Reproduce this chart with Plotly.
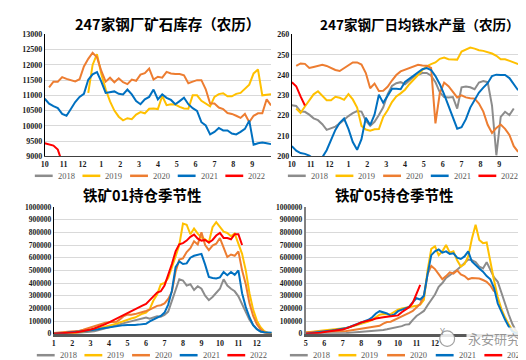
import numpy as np
import plotly.graph_objects as go

W, H = 526, 360

YEARS = ["2018", "2019", "2020", "2021", "2022"]
COLORS = {"2018": "#8C8C8C", "2019": "#FFC000", "2020": "#ED7D31",
          "2021": "#0070C0", "2022": "#FF0000"}

# ---------------- top-left: 247 steel mills ore inventory (lunar weeks) ----------------
lunar_labels = ["10", "11", "12", "1", "2", "3", "4", "5", "6", "7", "8", "9"]
inv_2018 = []
inv_2019 = [None] * 10 + [11080, 12000, 12350, 11700, 11200, 10800, 10500, 10300, 10180, 10250,
                          10220, 10370, 10450, 10410, 10560, 10570, 10550, 10980, 10680, 10710,
                          10700, 10620, 10570, 10560, 11000, 11000, 10820, 10720, 10640, 10950,
                          11040, 11070, 10970, 10970, 11050, 11080, 11200, 11350, 11720, 11850,
                          11000, 11010, 11040]
inv_2020 = [None] + [11260, 11450, 11450, 11600, 11540, 11500, 11460, 11530, 11950, 12200,
                     12400, 12250, 11800, 11450, 11580, 11430, 11560, 11430, 11370, 11520,
                     11480, 11680, 11730, 11880, 11520, 11610, 11580, 11770, 11720, 11700,
                     11700, 11660, 11400, 11450, 11500, 11500, 11200, 10730, 10730, 10600,
                     10550, 10420, 10390, 10330, 10260, 10390, 10120, 10330, 10410, 10410,
                     10870, 10670]
inv_2021 = [10890, 10730, 10650, 10580, 10390, 10330, 10550, 10780, 10950, 11050,
            11510, 11690, 11760, 11450, 11080, 11100, 11130, 11050, 11030, 11190,
            11030, 10810, 10710, 10870, 10950, 11190, 10870, 11030, 10920, 10850,
            10710, 10810, 10920, 10710, 10580, 10490, 10120, 10010, 9720, 9800,
            9930, 9850, 9850, 9750, 9720, 9800, 9900, 10170, 9380, 9430,
            9450, 9430, 9400]
inv_2022 = [9430, 9400, 9350, 9220, 8800]

# ---------------- top-right: 247 mills daily hot metal output (lunar weeks) ----------------
hm_2018 = [225.1, 224.8, 222, 221.9, 220.5, 218.7, 217.8, 215.8, 213, 214,
           214.6, 216.2, 218.2, 219.8, 221.2, 222.3, 222, 217.5, 215, 217,
           220.3, 224.1, 230.5, 234.6, 236.0, 236.5, 235.5, 237.5, 239.2, 240.1,
           241, 241, 239.7, 236.5, 231.5, 229.2, 228.9, 229.2, 223.5, 234,
           234.4, 234, 233, 236.3, 237, 236.5, 225, 200.5, 219.4, 221.9,
           220.3, 223.5]
hm_2019 = [None] + [223.5, 221.3, 224.5, 227.5, 230.5, 232, 230, 227.6, 227.6, 229.3,
                    228.8, 227.8, 230.6, 228, 224, 215, 213.2, 212.6, 213.3, 213.4,
                    219.4, 222.7, 226.7, 229.5, 231.0, 232.8, 235.5, 237.5, 240.0, 242.5,
                    244.3, 245.4, 246.2, 248.0, 248.6, 247.8, 247.6, 247.6, 251.6, 252.7,
                    253.5, 253, 252.2, 251.9, 251.3, 250.6, 249.5, 247.8, 247.8, 247,
                    246, 245.4]
hm_2020 = [None] + [244.5, 245.7, 245.5, 243.5, 244, 244.5, 245, 244.5, 243.5, 242.5,
                    242, 243.5, 245, 246.2, 246.2, 245.2, 241, 233.5, 235.8, 232.2,
                    232.3, 234.2, 237.3, 240, 241.8, 242.6, 243.3, 244.1, 245.1, 244.7,
                    244.6, 243.5, 216.2, 231, 236.3, 234.5, 231.5, 229, 230, 229,
                    228.6, 228.4, 226, 222, 215.5, 211.5, 214, 215.6, 213.5, 210.5,
                    205, 202.2]
hm_2021 = [205, 202.8, 201.6, 201.2, 200.3, 198.8, 198.5, 199.5, 203, 208,
           213, 216.5, 218.6, 213.5, 207, 203.2, 208.4, 219, 215.4, 220.5,
           230.3, 226.3, 229.5, 233.2, 233.2, 233, 236.6, 238.2, 239.7, 241.5,
           242.9, 243.4, 242.5, 239.5, 235.5, 230.5, 224.5, 218.5, 213.6, 214.3,
           218.3, 224, 228, 231.4, 233.8, 236, 239.5, 240.2, 240, 240,
           238.5, 235.5, 232.5]
hm_2022 = [236.5, 234.5, 229.5, 225.0]

# ---------------- bottom-left: iron ore 01 open interest (thousand lots), grid of 0.2 month ----------------
m01_labels = [str(m) for m in range(1, 13)]
oi01_2018 = [0, 0, 0, 0, 0, 2, 5, 8, 10, 12, 14, 20, 28, 35, 44, 51, 58, 66, 75, 84,
             92, 100, 110, 118, 122, 128, 118, 125, 138, 135, 148, 175, 260, 350, 430,
             420, 380, 390, 345, 375, 355, 300, 265, 290, 325, 355, 430, 380, 355, 335,
             295, 230, 165, 110, 68, 38, 18, 8, 3, 0]
oi01_2019 = [0, 0, 0, 0, 0, 3, 8, 12, 17, 22, 26, 33, 42, 51, 58, 64, 72, 80, 90, 102,
             115, 120, 128, 145, 158, 167, 195, 262, 310, 390, 400, 440, 520, 610, 700,
             870, 860, 785, 830, 790, 760, 745, 720, 840, 880, 840, 805, 795, 770, 790,
             705, 630, 500, 320, 190, 103, 51, 20, 6, 0]
oi01_2020 = [5, 7, 9, 10, 12, 14, 18, 24, 32, 42, 51, 60, 72, 80, 86, 90, 92, 94, 115, 140,
             152, 150, 155, 162, 172, 180, 190, 205, 220, 225, 240, 275, 330, 490, 585,
             595, 645, 675, 730, 705, 800, 700, 660, 695, 710, 755, 680, 605, 625, 615,
             650, 500, 390, 240, 140, 75, 35, 12, 4, 0]
oi01_2021 = [0, 0, 2, 5, 9, 13, 15, 17, 20, 23, 26, 30, 36, 42, 47, 51, 55, 60, 66, 68,
             69, 68, 70, 72, 75, 78, 98, 112, 128, 141, 167, 230, 340, 526, 570,
             550, 555, 600, 615, 620, 630, 545, 449, 440, 436, 445, 487, 462, 487, 465,
             500, 320, 210, 130, 68, 35, 18, 12, 9, 8]
oi01_2022 = [0, 1, 2, 4, 6, 8, 12, 16, 21, 27, 33, 42, 52, 63, 76, 90, 105, 122, 138, 152,
             167, 180, 194, 208, 222, 236, 262, 295, 325, 335, 380, 460, 550, 650, 705,
             715, 735, 765, 782, 750, 735, 740, 720, 740, 775, 795, 756, 755, 745, 785,
             785, 700] + [None] * 8

# ---------------- bottom-right: iron ore 05 open interest (thousand lots), grid of 0.2 month from May ----------------
# labels after "12" are hidden under the watermark in the reference
m05_labels = ["5", "6", "7", "8", "9", "10", "11", "12", "", "", "", ""]
oi05_2018 = [0, 0, 0, 0, 0, 0, 0, 1, 2, 3, 4, 5, 7, 9, 11, 13, 15, 18, 20, 23,
             26, 30, 35, 40, 45, 51, 60, 72, 75, 110, 140, 160, 180, 225, 265,
             310, 370, 400, 440, 460, 485, 505, 530, 560, 585, 580, 565, 530, 515, 565,
             500, 445, 410, 320, 225, 150, 75, 20, 2, 0]
oi05_2019 = [10, 15, 18, 20, 23, 26, 28, 30, 33, 36, 38, 45, 52, 60, 68, 77, 85, 97, 110, 130,
             150, 155, 152, 155, 172, 190, 200, 205, 205, 210, 220, 230, 268, 500, 670,
             690, 620, 650, 700, 640, 650, 580, 530, 550, 610, 750, 860, 740, 715, 720,
             560, 420, 290, 195, 128, 72, 30, 8, 0, 0]
oi05_2020 = [10, 13, 15, 16, 17, 18, 18, 18, 18, 18, 18, 22, 26, 30, 34, 38, 42, 48, 54, 58,
             63, 80, 92, 95, 108, 125, 140, 152, 165, 180, 205, 235, 300, 470, 535,
             510, 470, 430, 455, 485, 475, 500, 468, 455, 430, 440, 438, 436, 424, 410,
             380, 333] + [None] * 8
oi05_2021 = [0, 3, 6, 10, 14, 18, 22, 26, 30, 34, 38, 45, 55, 65, 75, 85, 97, 110, 130, 160,
             178, 172, 160, 142, 152, 178, 188, 198, 212, 250, 280, 270, 300, 470, 620,
             650, 665, 640, 650, 630, 635, 600, 590, 610, 650, 570, 540, 515, 490, 455,
             430, 360, 240, 170, 110, 55, 18, 3, 0, 0]
oi05_2022 = [0, 1, 2, 4, 8, 13, 16, 20, 24, 28, 33, 42, 52, 62, 76, 90, 96, 102, 110, 120,
             128, 131, 134, 137, 140, 145, 170, 190, 210, 245, 320, 385] + [None] * 28

# ---------------- layout geometry ----------------
def px_x(a, b):
    return [a / W, b / W]

def px_y(top, bottom):
    return [1 - bottom / H, 1 - top / H]

TL = dict(x=px_x(33, 261), y=px_y(23, 148))
TR = dict(x=px_x(282, 510), y=px_y(23, 148))
BL = dict(x=px_x(42, 262), y=px_y(200, 330))
BR = dict(x=px_x(296, 517), y=px_y(200, 330))

fig = go.Figure()

weeks_x = np.arange(53) * 12 / 52
grid01 = 1 + np.arange(60) * 0.2
grid05 = np.arange(60) * 0.2


def add(series, x, xa, ya, year, width=2.0):
    vals = list(series)
    fig.add_trace(go.Scatter(
        x=list(x[:len(vals)]), y=vals, mode="lines", name=year,
        line=dict(color=COLORS[year], width=width), showlegend=False,
        xaxis=xa, yaxis=ya, connectgaps=False, hoverinfo="skip"))


inv = dict(zip(YEARS, [inv_2018, inv_2019, inv_2020, inv_2021, inv_2022]))
hm = dict(zip(YEARS, [hm_2018, hm_2019, hm_2020, hm_2021, hm_2022]))
o1 = dict(zip(YEARS, [oi01_2018, oi01_2019, oi01_2020, oi01_2021, oi01_2022]))
o5 = dict(zip(YEARS, [oi05_2018, oi05_2019, oi05_2020, oi05_2021, oi05_2022]))

for y in YEARS:
    add(inv[y] if inv[y] else [None], weeks_x, "x", "y", y)
for y in YEARS:
    add(hm[y], weeks_x, "x2", "y2", y)
for y in YEARS:
    add([None if v is None else v * 1000 for v in o1[y]], grid01, "x3", "y3", y)
for y in YEARS:
    add([None if v is None else v * 1000 for v in o5[y]], grid05, "x4", "y4", y)

tickfont = dict(family="Liberation Serif", size=8, color="#1a1a1a", weight="bold")
tickfont_big = dict(family="Liberation Serif", size=7.5, color="#1a1a1a", weight="bold")
gridc = "#D9D9D9"

common_y = dict(showgrid=True, gridcolor=gridc, gridwidth=1, zeroline=False,
                showline=True, linecolor="#000000", linewidth=1, ticks="",
                tickformat="d", fixedrange=True)
common_x = dict(showgrid=False, zeroline=False, showline=True, ticks="",
                tickfont=tickfont, fixedrange=True)

fig.update_layout(
    xaxis=dict(domain=TL["x"], anchor="y", range=[0, 12], tickvals=list(range(12)),
               ticktext=lunar_labels, linecolor="#404040", linewidth=1, **common_x),
    yaxis=dict(domain=TL["y"], anchor="x", range=[9000, 13000], dtick=500,
               tickfont=tickfont, **common_y),
    xaxis2=dict(domain=TR["x"], anchor="y2", range=[0, 12], tickvals=list(range(12)),
                ticktext=lunar_labels, linecolor="#404040", linewidth=1, **common_x),
    yaxis2=dict(domain=TR["y"], anchor="x2", range=[200, 260], dtick=10,
                tickfont=tickfont, **common_y),
    xaxis3=dict(domain=BL["x"], anchor="y3", range=[1, 12.82], tickvals=list(range(1, 13)),
                ticktext=m01_labels, linecolor="#595959", linewidth=2.5, **common_x),
    yaxis3=dict(domain=BL["y"], anchor="x3", range=[0, 1000000], dtick=100000,
                tickfont=tickfont_big, **common_y),
    xaxis4=dict(domain=BR["x"], anchor="y4", range=[0, 11.88], tickvals=list(range(12)),
                ticktext=m05_labels, linecolor="#595959", linewidth=2.5, **common_x),
    yaxis4=dict(domain=BR["y"], anchor="x4", range=[0, 1000000], dtick=100000,
                tickfont=tickfont_big, **common_y),
)
fig.layout.yaxis4.linecolor = "#808080"
fig.layout.yaxis4.linewidth = 2

# ---------------- legends (one row under each panel) ----------------
legfont = dict(family="Liberation Serif", size=8.5, color="#595959")
legend_rows = [(23, 168, 48), (278, 168, 48), (25, 352, 48), (280, 352, 49)]
for x0, yc, pitch in legend_rows:
    yp = 1 - yc / H
    for k, yr in enumerate(YEARS):
        lx = x0 + k * pitch
        fig.add_shape(type="line", xref="paper", yref="paper", x0=lx / W, x1=(lx + 18) / W,
                      y0=yp, y1=yp, line=dict(color=COLORS[yr], width=2.5))
        fig.add_annotation(text=yr, x=(lx + 21) / W, y=yp, xref="paper", yref="paper",
                           showarrow=False, xanchor="left", yanchor="middle", font=legfont)

titles = [("247家钢厂矿石库存（农历）", 157, 12, 14.5), ("247家钢厂日均铁水产量（农历）", 411, 12, 13.5),
          ("铁矿01持仓季节性", 131, 187, 14.5), ("铁矿05持仓季节性", 385, 187, 14.5)]
for t, xc, yc, fs in titles:
    fig.add_annotation(text="<b>%s</b>" % t, x=xc / W, y=1 - yc / H, xref="paper", yref="paper",
                       showarrow=False, xanchor="center", yanchor="middle",
                       font=dict(family="Noto Sans CJK SC", size=fs, color="#000000"))

# watermark
fig.add_annotation(text="永安研究", x=486 / W, y=1 - 335 / H, xref="paper", yref="paper",
                   showarrow=False, xanchor="center", yanchor="middle",
                   font=dict(family="Noto Sans CJK SC", size=13, color="rgba(120,120,120,0.75)"),
                   bgcolor="rgba(255,255,255,0.85)")
fig.add_shape(type="circle", xref="paper", yref="paper", x0=431 / W, x1=446 / W,
              y0=1 - 343 / H, y1=1 - 327 / H, line=dict(color="rgba(120,120,120,0.7)", width=1.2),
              fillcolor="rgba(255,255,255,0.85)")
fig.add_annotation(text="Y", x=438.5 / W, y=1 - 335 / H, xref="paper", yref="paper",
                   showarrow=False, font=dict(family="DejaVu Sans", size=8,
                                              color="rgba(120,120,120,0.8)"))

fig.update_layout(width=W, height=H, margin=dict(l=0, r=0, t=0, b=0),
                  paper_bgcolor="white", plot_bgcolor="white", showlegend=False)

fig.write_html("out.html")
